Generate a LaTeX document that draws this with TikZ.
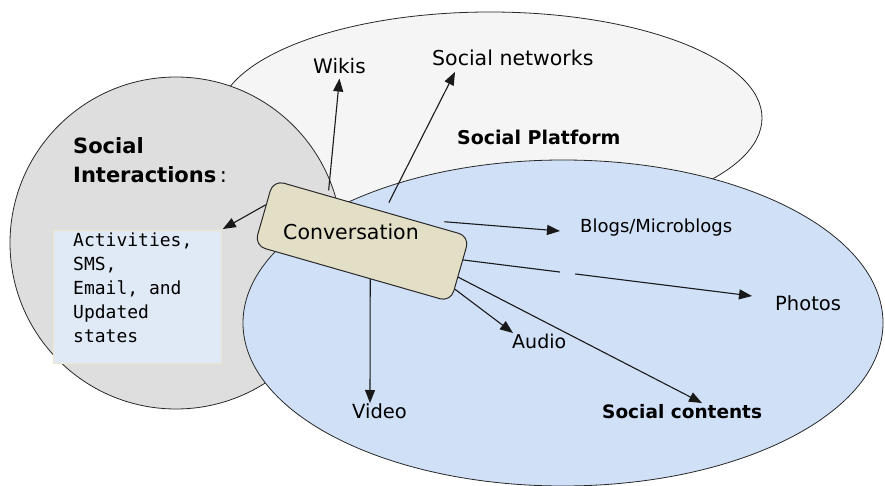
\documentclass[tikz,border=0pt]{standalone}
\usepackage{fontspec}
\setmainfont{DejaVu Sans}
\setmonofont{DejaVu Sans Mono}
\usetikzlibrary{calc,arrows.meta}

\definecolor{platformfill}{RGB}{245,245,245}
\definecolor{interfill}{RGB}{222,222,222}
\definecolor{contentfill}{RGB}{207,224,247}
\definecolor{actfill}{RGB}{224,234,247}
\definecolor{actborder}{RGB}{237,230,204}
\definecolor{convfill}{RGB}{227,223,199}
\definecolor{edgegray}{RGB}{40,40,40}

\begin{document}
\begin{tikzpicture}[x=1pt,y=-1pt,
  region/.style={draw=edgegray,line width=0.8pt},
  lbl/.style={inner sep=0pt,anchor=base west,font=\fontsize{19.5}{22}\selectfont},
  boldlbl/.style={lbl,font=\fontsize{18.5}{22}\selectfont\bfseries},
  wire/.style={draw=black!90,line width=1.1pt},
  flow/.style={wire,-{Triangle[length=13pt,width=10pt]}},
]
\useasboundingbox (0,0) rectangle (885,486);
\fill[white] (0,0) rectangle (885,486);

% the three overlapping areas
\draw[region,fill=platformfill] (490,118) ellipse [x radius=272pt,y radius=106pt];
\draw[region,fill=interfill] (176,243) ellipse [x radius=166pt,y radius=166pt];
\draw[region,fill=contentfill] (563,323) ellipse [x radius=320pt,y radius=163pt];

% social interactions
\node[anchor=north west,inner sep=0pt,align=left,
      font=\fontsize{21}{29}\selectfont\bfseries] (inter) at (73,137)
      {Social\\Interactions\,{\mdseries:}};
\node[draw=actborder,fill=actfill,line width=0.8pt,anchor=north west,
      minimum width=168pt,minimum height=133pt,inner sep=0pt] (act) at (53,230) {};
\node[anchor=north west,inner sep=0pt,align=left,
      font=\fontsize{18}{24}\ttfamily] (acttext) at (73,233)
      {Activities,\\SMS,\\Email, and\\Updated\\states};

% central conversation box
\node[draw=edgegray,line width=1pt,fill=convfill,rounded corners=11pt,
      minimum width=204pt,minimum height=68pt,rotate=-16] (conv) at (362,241) {};
\node[lbl,anchor=base,font=\fontsize{20.5}{22}\selectfont] (convtext) at (351,240) {Conversation};

% labels
\node[lbl,font=\fontsize{20}{22}\selectfont] (wikis) at (313,74) {Wikis};
\node[lbl,font=\fontsize{20.5}{22}\selectfont] (socnet) at (432,66) {Social networks};
\node[boldlbl,font=\fontsize{19}{22}\selectfont\bfseries] (platform) at (457,145) {Social Platform};
\node[lbl,font=\fontsize{18}{22}\selectfont] (blogs) at (580,233) {Blogs/Microblogs};
\node[lbl] (photos) at (775,310) {Photos};
\node[lbl,font=\fontsize{19}{22}\selectfont] (audio) at (512,348) {Audio};
\node[lbl] (video) at (352,418) {Video};
\node[boldlbl] (contents) at (602,418) {Social contents};

% connectors
\draw[flow,shorten <=5pt] ($(conv.north west)!0.28!(conv.north east)$) -- ($(wikis.south)+(0,4)$);
\draw[flow,shorten <=10pt] ($(conv.north west)!0.565!(conv.north east)$) -- ($(socnet.base west)+(23,6)$);
\draw[flow] ($(conv.north west)!0.38!(conv.south west)$) -- ($(act.north east)+(1,-1)$);
\draw[flow] ($(conv.north west)!0.87!(conv.north east)+(0,-7)$) -- ($(blogs.base west)+(-20,-2)$);
\coordinate (ph0) at ($(conv.north east)!0.36!(conv.south east)$);
\coordinate (ph1) at ($(photos.base west)+(-23,-14)$);
\draw[wire] (ph0) -- ($(ph0)!0.335!(ph1)$);
\draw[flow] ($(ph0)!0.388!(ph1)$) -- (ph1);
\draw[flow] ($(conv.north east)!0.8!(conv.south east)$) -- ($(audio.base west)+(1,-15)$);
\draw[flow] ($(conv.north east)!0.62!(conv.south east)$) -- ($(contents.base west)+(100,-15)$);
\draw[flow] ($(conv.south west)!0.59!(conv.south east)$) -- ($(video.base west)+(18,-15)$);
\end{tikzpicture}
\end{document}
